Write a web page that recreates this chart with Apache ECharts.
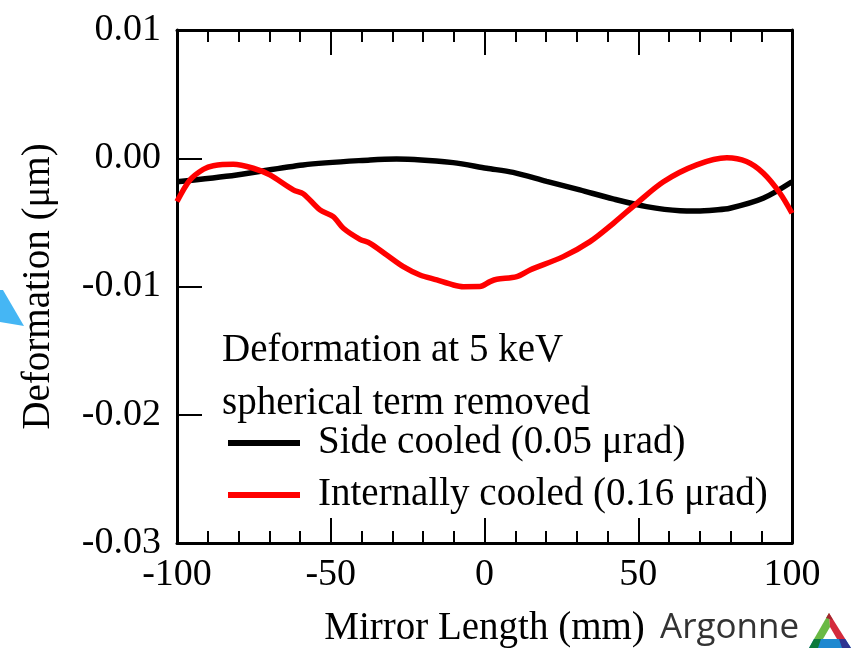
<!DOCTYPE html>
<html>
<head>
<meta charset="utf-8">
<script src="https://cdn.jsdelivr.net/npm/echarts@6/dist/echarts.min.js"></script>
<style>html,body{margin:0;padding:0;background:#fff}#c{width:853px;height:648px}</style>
</head>
<body>
<div id="c"></div>
<script>
const sideX = [-100, -80.6, -59, -37.2, -28.6, -10.2, 0.7, 9.3, 20.2, 31, 41.8, 52.7, 63.6, 69, 75, 79.8, 90.6, 100];
const sideY = [-0.00183, -0.0013, -0.00052, -0.00013, -0.00005, -0.00034, -0.00078, -0.0011, -0.0018, -0.00247, -0.00317, -0.00377, -0.00409, -0.00411, -0.00403, -0.0039, -0.00312, -0.00183];
const intX = [-100, -95.8, -91.4, -88.2, -81.7, -75.2, -69.8, -62.2, -58.9, -53.5, -49.2, -45.9, -40.5, -37.2, -31.8, -26.4, -21, -15.5, -10.1, -6.9, -1.5, 1.8, 4, 10.5, 14.8, 25.6, 34.3, 41.9, 49.5, 58.2, 69, 78.8, 85.2, 90.7, 96.1, 100];
const intY = [-0.00338, -0.0017, -0.00086, -0.00058, -0.00047, -0.00078, -0.0013, -0.00247, -0.00278, -0.00403, -0.00455, -0.00546, -0.00632, -0.00663, -0.00754, -0.00845, -0.0091, -0.00949, -0.00988, -0.01001, -0.01, -0.00962, -0.00944, -0.00923, -0.00871, -0.00767, -0.0065, -0.00507, -0.00351, -0.00183, -0.00052, 0.00003, -0.00026, -0.00117, -0.00273, -0.00429];
const seriesNames = ['Side cooled (0.05 μrad)', 'Internally cooled (0.16 μrad)'];
const xTicks = [-100, -50, 0, 50, 100];
const yTicks = [-0.03, -0.02, -0.01, 0.00, 0.01];

const FONT = "'Liberation Serif','Times New Roman',serif";
const chart = echarts.init(document.getElementById('c'));
const axisLine = {show: true, onZero: false, lineStyle: {color: '#000', width: 3}};
chart.setOption({
  animation: false,
  backgroundColor: '#fff',
  grid: {left: 177, right: 61, top: 30, bottom: 105, containLabel: false, outerBoundsMode: 'none'},
  xAxis: [{
    type: 'value', min: xTicks[0], max: xTicks[xTicks.length - 1], interval: 50, position: 'bottom',
    axisLine: axisLine,
    axisTick: {show: true, inside: true, length: 25, lineStyle: {color: '#000', width: 2}},
    minorTick: {show: true, splitNumber: 5, length: 12, lineStyle: {color: '#000', width: 2}},
    splitLine: {show: false},
    axisLabel: {color: '#000', fontFamily: FONT, fontSize: 38, margin: 13},
    name: 'Mirror Length (mm)', nameLocation: 'middle', nameGap: 66,
    nameTextStyle: {color: '#000', fontFamily: FONT, fontSize: 39}
  }, {
    type: 'value', min: xTicks[0], max: xTicks[xTicks.length - 1], interval: 50, position: 'top',
    axisLine: axisLine,
    axisTick: {show: true, inside: true, length: 25, lineStyle: {color: '#000', width: 2}},
    minorTick: {show: true, splitNumber: 5, length: 12, lineStyle: {color: '#000', width: 2}},
    splitLine: {show: false}, axisLabel: {show: false}
  }],
  yAxis: [{
    type: 'value', min: yTicks[0], max: yTicks[yTicks.length - 1], interval: 0.01, position: 'left',
    axisLine: axisLine,
    axisTick: {show: true, inside: true, length: 25, lineStyle: {color: '#000', width: 2}},
    splitLine: {show: false},
    axisLabel: {color: '#000', fontFamily: FONT, fontSize: 38, margin: 16,
      formatter: v => (Math.abs(v) < 1e-9 ? 0 : v).toFixed(2)},
    name: 'Deformation (μm)', nameLocation: 'middle', nameGap: 119,
    nameTextStyle: {color: '#000', fontFamily: FONT, fontSize: 39}
  }, {
    type: 'value', min: yTicks[0], max: yTicks[yTicks.length - 1], interval: 0.01, position: 'right',
    axisLine: axisLine, axisTick: {show: false}, splitLine: {show: false}, axisLabel: {show: false}
  }],
  legend: {
    orient: 'vertical', left: 228, top: 422, padding: 0, itemGap: 10,
    icon: 'rect', itemWidth: 72, itemHeight: 6,
    textStyle: {color: '#000', fontFamily: FONT, fontSize: 39, lineHeight: 42, padding: [0, 0, 0, 13]},
    data: seriesNames
  },
  series: [{
    name: seriesNames[0], type: 'line', smooth: 0.3, showSymbol: false,
    lineStyle: {color: '#000', width: 5.5}, itemStyle: {color: '#000'},
    data: sideX.map((x, i) => [x, sideY[i]])
  }, {
    name: seriesNames[1], type: 'line', smooth: 0.3, showSymbol: false,
    lineStyle: {color: '#ff0000', width: 5.5}, itemStyle: {color: '#ff0000'},
    data: intX.map((x, i) => [x, intY[i]])
  }],
  graphic: [
    {type: 'text', left: 222, top: 331, style: {text: 'Deformation at 5 keV', fill: '#000', font: "39px " + FONT}},
    {type: 'text', left: 222, top: 384, style: {text: 'spherical term removed', fill: '#000', font: "39px " + FONT}},
    {type: 'polygon', shape: {points: [[0, 290], [3, 290], [24, 326], [0, 322]]}, style: {fill: '#45b6f4'}},
    {type: 'text', left: 660, top: 611, style: {text: 'Argonne', fill: '#333', font: "35px 'Open Sans', 'DejaVu Sans', sans-serif"}},
    {type: 'polygon', shape: {points: [[829, 613], [814, 639], [823, 639], [830, 627]]}, style: {fill: '#6ab945'}},
    {type: 'polygon', shape: {points: [[829, 613], [845.3, 639], [837, 639], [830, 627]]}, style: {fill: '#d42a3c'}},
    {type: 'polygon', shape: {points: [[829, 613], [833, 620], [826, 618]]}, style: {fill: '#a3282e'}},
    {type: 'polygon', shape: {points: [[814, 639], [845.3, 639], [851, 648], [809, 648]]}, style: {fill: '#1e88d0'}},
    {type: 'polygon', shape: {points: [[814, 639], [821, 639], [818, 648], [809, 648]]}, style: {fill: '#0d7a3c'}},
    {type: 'polygon', shape: {points: [[839, 639], [845.3, 639], [851, 648], [842, 648]]}, style: {fill: '#2f3390'}}
  ]
});
</script>
</body>
</html>
